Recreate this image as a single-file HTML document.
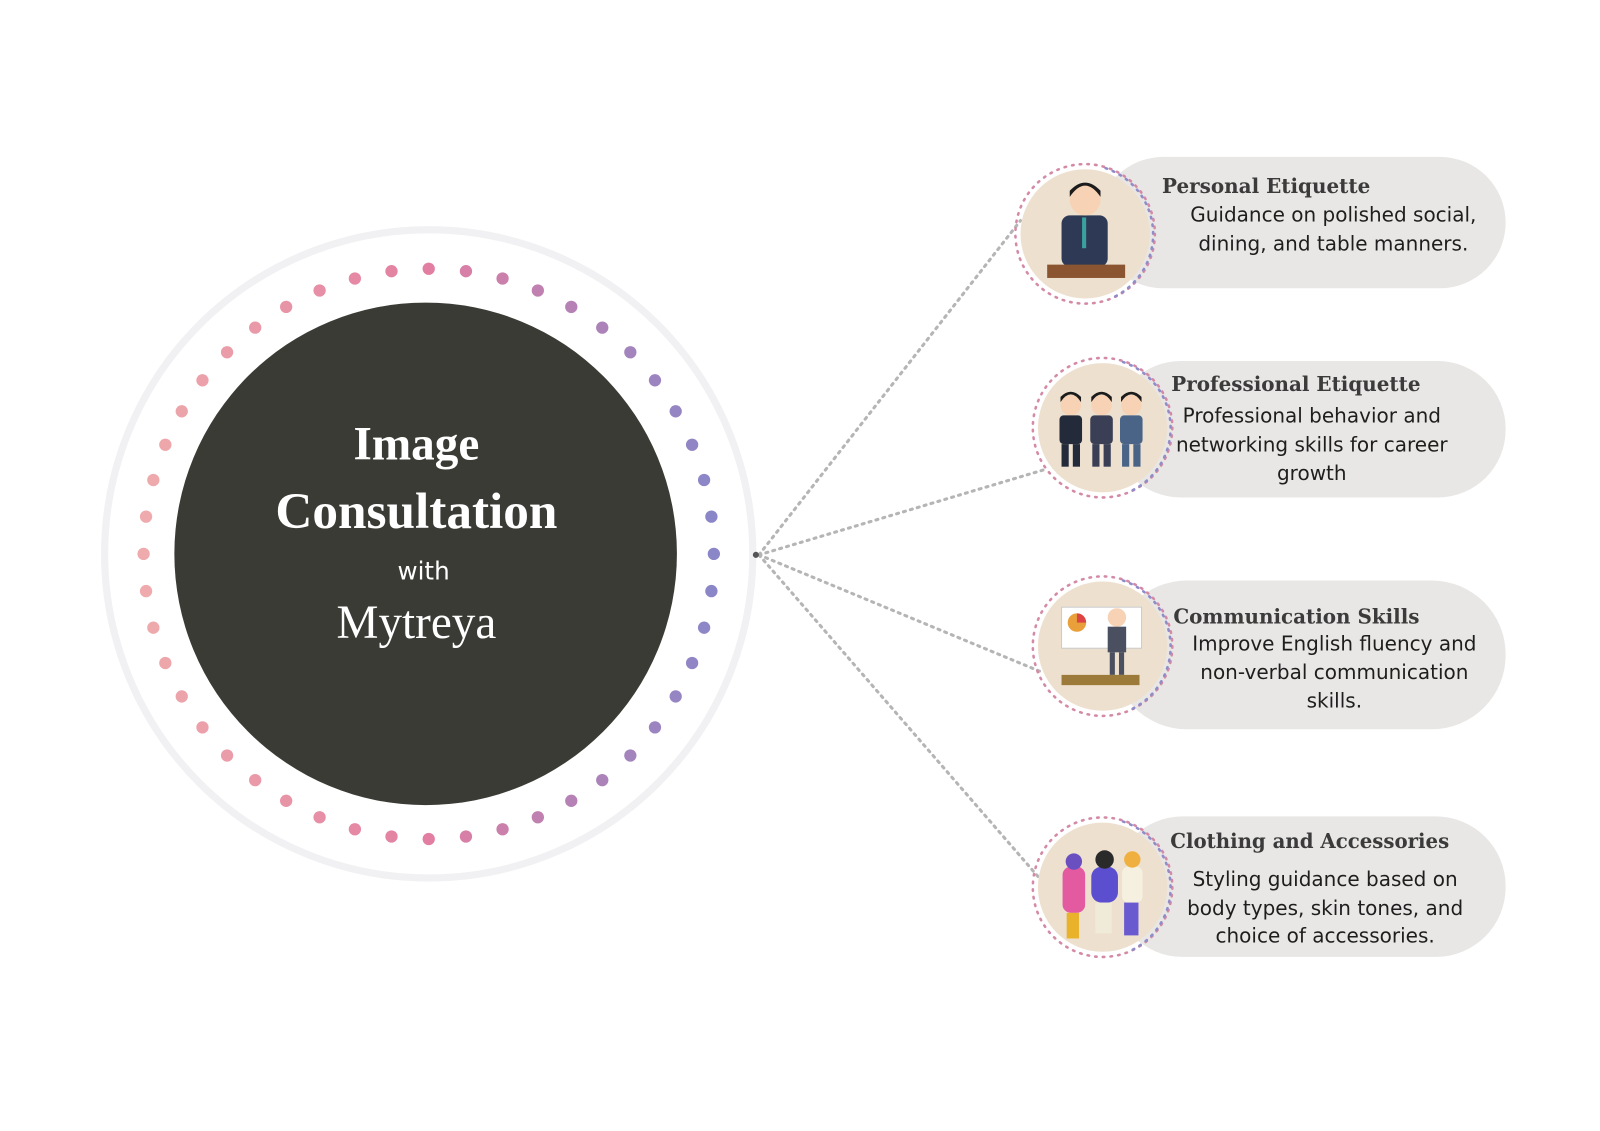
<!DOCTYPE html>
<html><head><meta charset="utf-8"><style>
html,body{margin:0;padding:0;background:#fff;}
svg{display:block;}
.t{font-family:"DejaVu Serif","Liberation Serif",serif;font-weight:bold;fill:#3b3b3b;font-size:20px;}
.b{font-family:"DejaVu Sans","Liberation Sans",sans-serif;fill:#1e1e1e;font-size:19.5px;text-anchor:middle;}
</style></head><body>
<svg id="s" width="1600" height="1131" viewBox="0 0 1560 1102.7" xmlns="http://www.w3.org/2000/svg">
<circle cx="418" cy="540" r="316" fill="none" stroke="#f1f1f3" stroke-width="7"/>
<g id="dots"></g>
<circle cx="415" cy="540" r="245" fill="#3b3b36"/>
<g font-family="Liberation Serif,serif" fill="#fff" text-anchor="middle">
<text x="406" y="448" font-size="46" font-weight="bold">Image</text>
<text x="406" y="515" font-size="50" font-weight="bold">Consultation</text>
<text x="413" y="565" font-size="24" font-family="DejaVu Sans,sans-serif">with</text>
<text x="406" y="622" font-size="46">Mytreya</text>
</g>
<g stroke="#b5b5b5" stroke-width="3" stroke-dasharray="2 5" stroke-linecap="round" fill="none">
<line x1="740" y1="541" x2="995" y2="215"/>
<line x1="740" y1="541" x2="1018" y2="458"/>
<line x1="740" y1="541" x2="1015" y2="655"/>
<line x1="740" y1="541" x2="1015" y2="858"/>
</g>
<circle cx="737" cy="541" r="3" fill="#555"/>
<g fill="#e8e7e5">
<rect x="1070" y="153" width="398" height="128" rx="64"/>
<rect x="1085" y="352" width="383" height="133" rx="66"/>
<rect x="1085" y="566" width="383" height="145" rx="72"/>
<rect x="1085" y="796" width="383" height="137" rx="68"/>
</g>
<g id="icons"></g>
<text class="t" x="1133" y="188" textLength="203" lengthAdjust="spacingAndGlyphs">Personal Etiquette</text>
<text class="b" x="1300" y="216">Guidance on polished social,</text>
<text class="b" x="1300" y="244">dining, and table manners.</text>
<text class="t" x="1142" y="381" textLength="243" lengthAdjust="spacingAndGlyphs">Professional Etiquette</text>
<text class="b" x="1279" y="412">Professional behavior and</text>
<text class="b" x="1279" y="440">networking skills for career</text>
<text class="b" x="1279" y="468">growth</text>
<text class="t" x="1144" y="608" textLength="240" lengthAdjust="spacingAndGlyphs">Communication Skills</text>
<text class="b" x="1301" y="634">Improve English fluency and</text>
<text class="b" x="1301" y="662">non-verbal communication</text>
<text class="b" x="1301" y="690">skills.</text>
<text class="t" x="1141" y="827" textLength="272" lengthAdjust="spacingAndGlyphs">Clothing and Accessories</text>
<text class="b" x="1292" y="864">Styling guidance based on</text>
<text class="b" x="1292" y="892">body types, skin tones, and</text>
<text class="b" x="1292" y="919">choice of accessories.</text>
</svg>
<script>
var NS="http://www.w3.org/2000/svg",g=document.getElementById('dots');
function mix(a,b,t){return a.map(function(v,i){return Math.round(v+(b[i]-v)*t)});}
var L=[238,170,172],M=[226,126,162],R=[138,134,200];
for(var i=0;i<48;i++){var a=i*2*Math.PI/48;var x=418+278*Math.sin(a),y=540-278*Math.cos(a);
var t=(x-140)/556;var c=t<0.5?mix(L,M,t*2):mix(M,R,(t-0.5)*2);
var e=document.createElementNS(NS,'circle');e.setAttribute('cx',x.toFixed(1));e.setAttribute('cy',y.toFixed(1));e.setAttribute('r',6);e.setAttribute('fill','rgb('+c.join(',')+')');g.appendChild(e);}
var ic=document.getElementById('icons');
var C=[[1058,228],[1075,417],[1075,630],[1075,865]];
var html='';
C.forEach(function(p){
html+='<circle cx="'+p[0]+'" cy="'+p[1]+'" r="68" fill="none" stroke="#d48aa6" stroke-width="2.5" stroke-dasharray="1.5 6" stroke-linecap="round"/>';
html+='<path d="M'+(p[0]+20)+' '+(p[1]-64)+' A68 68 0 0 1 '+(p[0]+25)+' '+(p[1]+63)+'" fill="none" stroke="#8f8cc8" stroke-width="2.5" stroke-dasharray="1.5 6" stroke-linecap="round"/>';
html+='<circle cx="'+p[0]+'" cy="'+p[1]+'" r="63" fill="#ede0cf"/>';});
html+='<rect x="1035" y="210" width="45" height="50" rx="8" fill="#2e3a55"/><circle cx="1058" cy="195" r="15" fill="#f7d2b4"/><path d="M1043 192 q15 -22 30 0 v-6 q-15 -16 -30 0z" fill="#1c1c1c"/><rect x="1055" y="212" width="4" height="30" fill="#3aa0a0"/><rect x="1021" y="258" width="76" height="13" fill="#8a5530"/>';
[[1044,'#232a3a'],[1074,'#3a3f55'],[1103,'#4a6488']].forEach(function(q){var x=q[0];html+='<circle cx="'+x+'" cy="395" r="10" fill="#f7d2b4"/><path d="M'+(x-10)+' 392 q10 -15 20 0 v-5 q-10 -10 -20 0z" fill="#1c1c1c"/><rect x="'+(x-11)+'" y="405" width="22" height="28" rx="4" fill="'+q[1]+'"/><rect x="'+(x-9)+'" y="433" width="7" height="22" fill="'+q[1]+'"/><rect x="'+(x+2)+'" y="433" width="7" height="22" fill="'+q[1]+'"/>';});
html+='<rect x="1035" y="592" width="78" height="40" fill="#fff" stroke="#ccc"/><circle cx="1050" cy="607" r="9" fill="#e9a03a"/><path d="M1050 607 L1050 598 A9 9 0 0 1 1059 607z" fill="#d44"/><circle cx="1089" cy="602" r="9" fill="#f7d2b4"/><rect x="1080" y="611" width="18" height="25" fill="#4a5060"/><rect x="1082" y="636" width="5" height="22" fill="#4a5060"/><rect x="1091" y="636" width="5" height="22" fill="#4a5060"/><rect x="1035" y="658" width="76" height="10" fill="#9c7a3a"/>';
html+='<rect x="1036" y="845" width="22" height="45" rx="8" fill="#e45aa0"/><rect x="1040" y="890" width="12" height="25" fill="#e8b22a"/><circle cx="1047" cy="840" r="8" fill="#6a4fc0"/><rect x="1064" y="845" width="26" height="35" rx="10" fill="#5b4fd0"/><rect x="1068" y="880" width="16" height="30" fill="#f0ead8"/><circle cx="1077" cy="838" r="9" fill="#2a2a2a"/><rect x="1094" y="845" width="20" height="35" rx="6" fill="#f5f0e0"/><rect x="1096" y="880" width="14" height="32" fill="#6a5ad0"/><circle cx="1104" cy="838" r="8" fill="#f0b040"/>';
ic.innerHTML=html;
</script>
</body></html>
